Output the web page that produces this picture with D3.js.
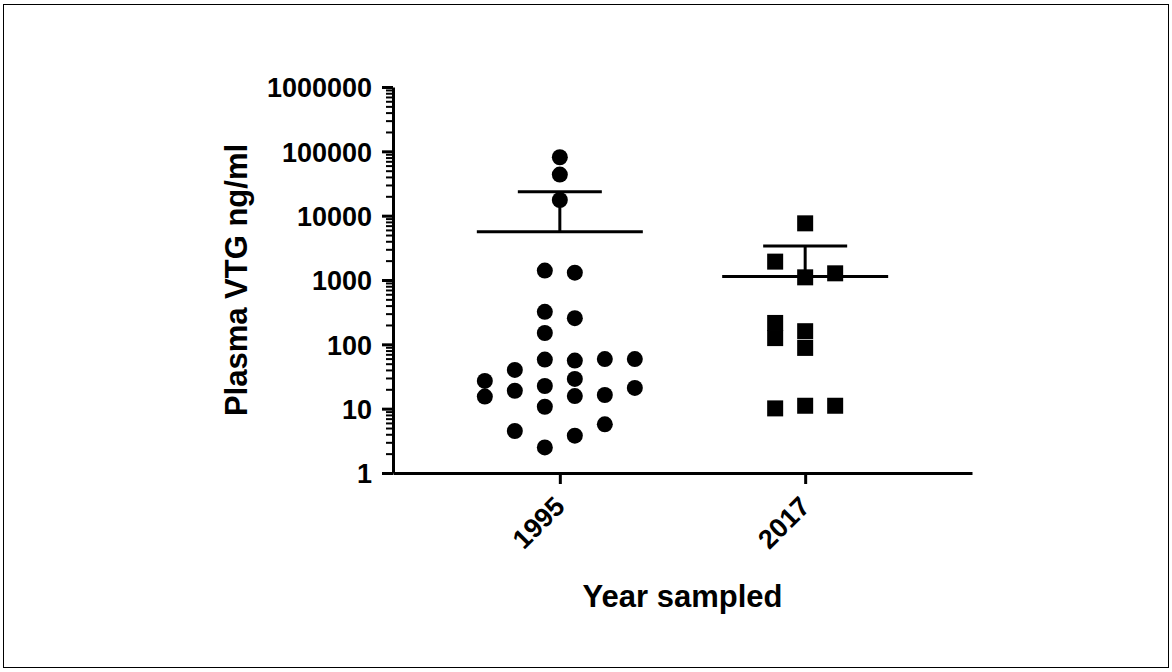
<!DOCTYPE html>
<html>
<head>
<meta charset="utf-8">
<script src="https://cdn.jsdelivr.net/npm/d3@7"></script>
<style>
  body { margin: 0; background: #fff; }
  svg text { font-family: Arial, "Liberation Sans", sans-serif; font-weight: bold; fill: #000; }
</style>
</head>
<body>
<svg id="chart"></svg>
<script>
const groups = ["1995", "2017"];

// plasma VTG (ng/ml) per fish, with the column slot each dot sits in
const vtg1995 = [81000, 43500, 17500, 1400, 1300, 320, 255, 150, 58, 56, 59, 59, 40,
  29, 27, 22.5, 21, 19, 16.3, 15.7, 15.4, 10.7, 5.7, 4.5, 3.8, 2.5];
const slot1995 = [0, 0, 0, -0.5, 0.5, -0.5, 0.5, -0.5, -0.5, 0.5, 1.5, 2.5, -1.5,
  0.5, -2.5, -0.5, 2.5, -1.5, 1.5, 0.5, -2.5, -0.5, 1.5, -1.5, 0.5, -0.5];

const vtg2017 = [7600, 1930, 1100, 1270, 215, 125, 160, 88, 10.1, 11.1, 11.1];
const slot2017 = [0, -1, 0, 1, -1, -1, 0, 0, -1, 0, 1];

const yTickValues = [1, 10, 100, 1000, 10000, 100000, 1000000];

const chartSize = { width: 1172, height: 672 };
const plot = { left: 393, right: 972, top: 87, bottom: 473 };

const series = [
  { year: groups[0], values: vtg1995, slots: slot1995, shape: "circle" },
  { year: groups[1], values: vtg2017, slots: slot2017, shape: "square" }
];

const svg = d3.select("#chart")
  .attr("width", chartSize.width)
  .attr("height", chartSize.height);

svg.append("rect")
  .attr("x", 3.5).attr("y", 4.5)
  .attr("width", 1165).attr("height", 663)
  .attr("fill", "none").attr("stroke", "#000").attr("stroke-width", 1);

const xScale = d3.scalePoint()
  .domain(groups)
  .range([plot.left, plot.right])
  .padding(0.68);

const yScale = d3.scaleLog()
  .domain([1, 1000000])
  .range([plot.bottom, plot.top]);

const jitter = d3.scaleLinear().domain([-1, 1]).range([-30, 30]);

// minor ticks first, majors on top
const minorTicks = yScale.ticks().filter(v => !yTickValues.includes(v));
const minorAxis = svg.append("g")
  .attr("transform", `translate(${plot.left},0)`)
  .call(d3.axisLeft(yScale).tickValues(minorTicks).tickSize(7).tickFormat(""));
minorAxis.select(".domain").remove();
minorAxis.selectAll("line").attr("stroke", "#000").attr("stroke-width", 2);

const yAxis = svg.append("g")
  .attr("transform", `translate(${plot.left},0)`)
  .call(d3.axisLeft(yScale)
    .tickValues(yTickValues)
    .tickSize(11)
    .tickSizeOuter(0)
    .tickPadding(10)
    .tickFormat(d3.format("d")));
yAxis.select(".domain").attr("stroke-width", 3);
yAxis.selectAll("line").attr("stroke-width", 3);
yAxis.selectAll("text").style("font-size", "27px").attr("dy", "0.36em");

const xAxis = svg.append("g")
  .attr("transform", `translate(0,${plot.bottom})`)
  .call(d3.axisBottom(xScale).tickSize(11).tickSizeOuter(0));
xAxis.select(".domain").attr("stroke-width", 3);
xAxis.selectAll("line").attr("stroke-width", 3);
xAxis.selectAll("text")
  .style("font-size", "27px")
  .attr("text-anchor", "end")
  .attr("x", 0).attr("y", 0).attr("dy", 0)
  .attr("transform", "translate(6,35) rotate(-45)");

svg.append("text")
  .attr("x", (plot.left + plot.right) / 2)
  .attr("y", 607)
  .attr("text-anchor", "middle")
  .style("font-size", "31px")
  .text("Year sampled");

svg.append("text")
  .attr("transform", `translate(247,${(plot.top + plot.bottom) / 2}) rotate(-90)`)
  .attr("text-anchor", "middle")
  .style("font-size", "31px")
  .text("Plasma VTG ng/ml");

// mean line with +SD whisker for each year
series.forEach(s => {
  const cx = xScale(s.year);
  const mean = d3.mean(s.values);
  const upper = mean + d3.deviation(s.values);
  const g = svg.append("g").attr("stroke", "#000").attr("stroke-width", 3);
  g.append("line")
    .attr("x1", cx - 83).attr("x2", cx + 83)
    .attr("y1", yScale(mean)).attr("y2", yScale(mean));
  g.append("line")
    .attr("x1", cx).attr("x2", cx)
    .attr("y1", yScale(mean)).attr("y2", yScale(upper));
  g.append("line")
    .attr("x1", cx - 42).attr("x2", cx + 42)
    .attr("y1", yScale(upper)).attr("y2", yScale(upper));
});

const points = series.flatMap(s =>
  s.values.map((v, i) => ({ year: s.year, value: v, slot: s.slots[i], shape: s.shape })));

svg.selectAll("circle.dot")
  .data(points.filter(d => d.shape === "circle"))
  .enter()
  .append("circle")
  .attr("class", "dot")
  .attr("cx", d => xScale(d.year) + jitter(d.slot))
  .attr("cy", d => yScale(d.value))
  .attr("r", 8)
  .attr("fill", "#000");

svg.selectAll("rect.dot")
  .data(points.filter(d => d.shape === "square"))
  .enter()
  .append("rect")
  .attr("class", "dot")
  .attr("x", d => xScale(d.year) + jitter(d.slot) - 8)
  .attr("y", d => yScale(d.value) - 8)
  .attr("width", 16)
  .attr("height", 16)
  .attr("fill", "#000");
</script>
</body>
</html>
